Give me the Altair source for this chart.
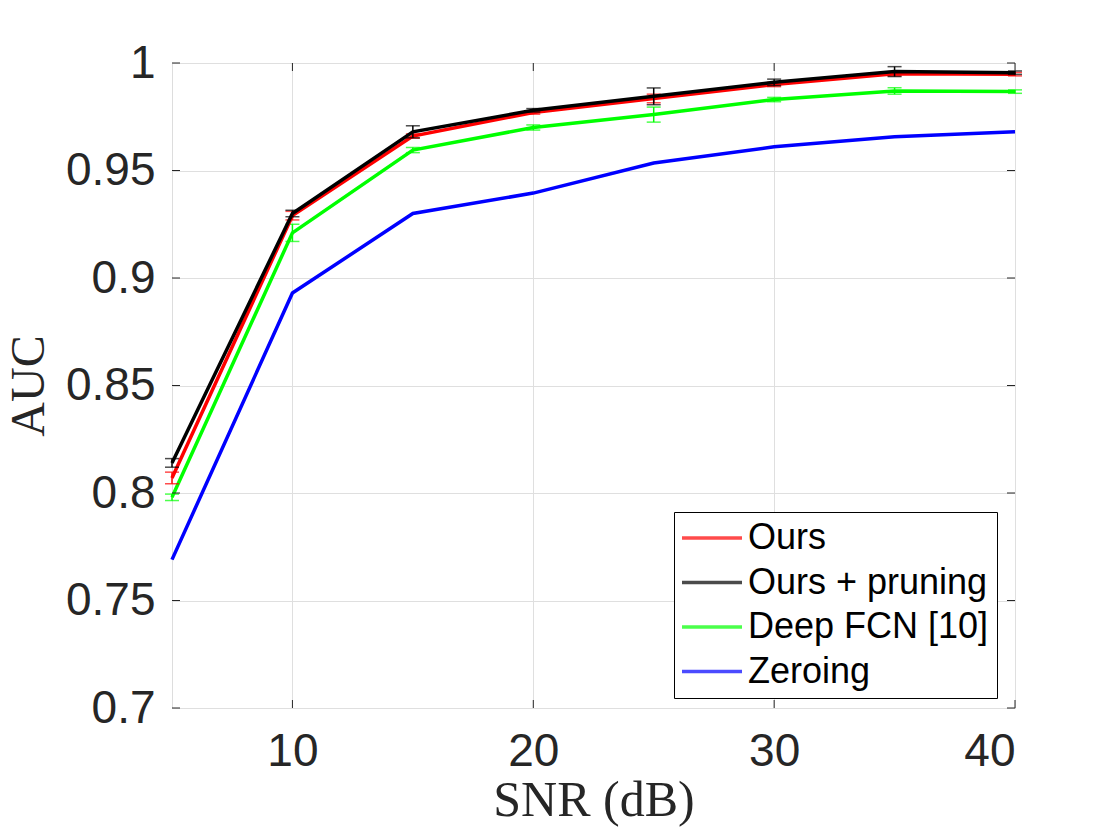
import altair as alt
import pandas as pd

snr = [5, 10, 15, 20, 25, 30, 35, 40]
series_names = ["Ours", "Ours + pruning", "Deep FCN [10]", "Zeroing"]
series_colors = ["#ff0000", "#000000", "#00ff00", "#0000ff"]

ours = [0.807, 0.929, 0.966, 0.977, 0.9835, 0.990, 0.995, 0.9948]
ours_err = [0.0027, 0.002, 0.001, 0.0008, 0.002, 0.001, 0.001, 0.0008]
pruning = [0.814, 0.930, 0.968, 0.978, 0.9845, 0.991, 0.996, 0.9955]
pruning_err = [0.002, 0.0015, 0.0028, 0.0008, 0.0039, 0.0015, 0.0023, 0.0008]
fcn = [0.798, 0.921, 0.9595, 0.970, 0.976, 0.983, 0.987, 0.9867]
fcn_err = [0.0015, 0.004, 0.0012, 0.0012, 0.0035, 0.001, 0.0015, 0.0008]
zeroing = [0.769, 0.893, 0.930, 0.9395, 0.9535, 0.961, 0.9657, 0.968]

x_ticks = [10, 20, 30, 40]
y_ticks = [0.7, 0.75, 0.8, 0.85, 0.9, 0.95, 1.0]

rows = []
for name, vals, errs in [
    ("Ours", ours, ours_err),
    ("Ours + pruning", pruning, pruning_err),
    ("Deep FCN [10]", fcn, fcn_err),
    ("Zeroing", zeroing, None),
]:
    for i, s in enumerate(snr):
        e = errs[i] if errs is not None else None
        rows.append({
            "series": name, "snr": s, "auc": vals[i],
            "lo": vals[i] - e if e is not None else None,
            "hi": vals[i] + e if e is not None else None,
        })
df = pd.DataFrame(rows)

W, H = 843, 645
xs = alt.Scale(domain=[5, 40], nice=False, zero=False)
ys = alt.Scale(domain=[0.7, 1.0], nice=False, zero=False)
cs = alt.Scale(domain=series_names, range=series_colors)

xaxis = alt.Axis(values=x_ticks, grid=True, ticks=False, domain=False,
                 labelFontSize=46, labelFont="Liberation Sans", labelColor="#262626",
                 labelPadding=21, title="SNR (dB)", titleFont="Liberation Serif",
                 titleFontSize=50, titleFontWeight="normal", titleColor="#262626",
                 titleY=107, titleBaseline="alphabetic", gridColor="#dfdfdf")
yaxis = alt.Axis(values=y_ticks, grid=True, ticks=False, domain=False, format=".2~f",
                 labelFontSize=46, labelFont="Liberation Sans", labelColor="#262626",
                 labelPadding=17, title="AUC", titleFont="Liberation Serif",
                 titleFontSize=48, titleFontWeight="normal", titleColor="#262626",
                 titleX=-129, titleBaseline="alphabetic", gridColor="#dfdfdf")

legend = alt.Legend(
    title=None, orient="none", legendX=502, legendY=449,
    direction="vertical",
    strokeColor="#000000", fillColor="#ffffff", padding=8,
    symbolType="M-3,0H3", symbolSize=400, symbolStrokeWidth=3.5,
    labelFont="Liberation Sans", labelFontSize=36, labelColor="#000000",
    labelLimit=400, rowPadding=8.5, symbolOffset=12, labelOffset=18,
)


def X(field):
    return alt.X(field, scale=xs, axis=xaxis)


def Y(field):
    return alt.Y(field, scale=ys, axis=yaxis)


def C():
    return alt.Color("series:N", scale=cs, legend=legend)


base = alt.Chart(df)

layers = []
# draw order: blue, green, red, black
for name in ["Zeroing", "Deep FCN [10]", "Ours", "Ours + pruning"]:
    sub = base.transform_filter(alt.datum.series == name)
    line = sub.mark_line(strokeWidth=3.5).encode(
        x=X("snr:Q"), y=Y("auc:Q"), color=C())
    layers.append(line)
    if name != "Zeroing":
        sub_e = sub.transform_filter(alt.datum.lo != None)
        rule = sub_e.mark_rule(strokeWidth=1.5).encode(
            x=X("snr:Q"), y=Y("lo:Q"), y2="hi:Q", color=C())
        cap1 = sub_e.mark_tick(orient="horizontal", size=14, thickness=1.5).encode(
            x=X("snr:Q"), y=Y("lo:Q"), color=C())
        cap2 = sub_e.mark_tick(orient="horizontal", size=14, thickness=1.5).encode(
            x=X("snr:Q"), y=Y("hi:Q"), color=C())
        layers += [rule, cap1, cap2]

xt = pd.DataFrame({"t": x_ticks})
yt = pd.DataFrame({"t": y_ticks})
tick_color = "#262626"
xtick_b = alt.Chart(xt).mark_rule(color=tick_color, strokeWidth=1).encode(
    x=X("t:Q"), y=alt.value(H), y2=alt.value(H - 8))
xtick_t = alt.Chart(xt).mark_rule(color=tick_color, strokeWidth=1).encode(
    x=X("t:Q"), y=alt.value(0), y2=alt.value(8))
ytick_l = alt.Chart(yt).mark_rule(color=tick_color, strokeWidth=1).encode(
    y=Y("t:Q"), x=alt.value(0), x2=alt.value(8))
ytick_r = alt.Chart(yt).mark_rule(color=tick_color, strokeWidth=1).encode(
    y=Y("t:Q"), x=alt.value(W - 8), x2=alt.value(W))

chart = alt.layer(*layers, xtick_b, xtick_t, ytick_l, ytick_r).properties(
    width=W, height=H,
    autosize=alt.AutoSizeParams(type="none"),
    padding={"left": 164, "top": 55, "right": 80, "bottom": 125},
).configure_view(stroke="#262626", strokeWidth=1.2).configure(background="white")

chart.save("out.html", embed_options={"renderer": "svg", "actions": False})
